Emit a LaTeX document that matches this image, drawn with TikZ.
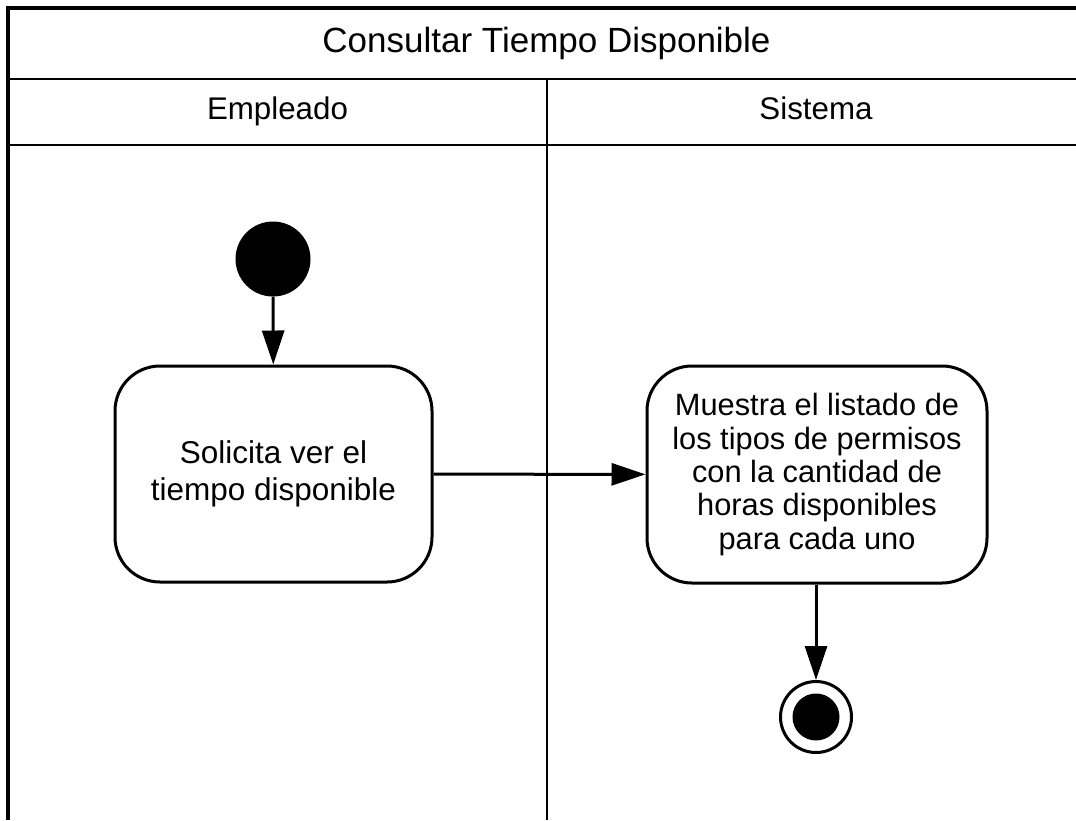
\documentclass[tikz,border=0pt]{standalone}
\usepackage{fontspec}
\setmainfont{Liberation Sans}
\usetikzlibrary{arrows.meta,positioning}
\begin{document}
\begin{tikzpicture}[x=1pt,y=-1pt,
  frame/.style={line width=3.2pt},
  lane/.style={line width=2.6pt},
  actbox/.style={draw,line width=3pt,rounded corners=45pt,align=center,inner sep=0pt},
  flow/.style={line width=3pt,-{Triangle[length=34pt,width=22pt]}},
  titletext/.style={font=\fontsize{35}{41}\selectfont,anchor=base,inner sep=0pt},
  headtext/.style={font=\fontsize{31.3}{37}\selectfont,anchor=base,inner sep=0pt}]
\useasboundingbox (0,0) rectangle (1076,820);
\fill[white] (0,0) rectangle (1076,820);
% frame and lanes
\draw[frame] (8,820) -- (8,8) -- (1090,8);
\draw[lane] (8,79) -- (1090,79);
\draw[lane] (8,145) -- (1090,145);
\draw[lane] (547,79) -- (547,820);
\node[titletext] (title) at (546.5,52) {Consultar Tiempo Disponible};
\node[headtext] (h1) at (277.5,119) {Empleado};
\node[headtext] (h2) at (816,119) {Sistema};
% nodes
\node[circle,fill=black,minimum size=75pt,inner sep=0pt] (start) at (273,259) {};
\node[actbox,minimum width=317pt,minimum height=216pt,font=\fontsize{31.5}{37.5}\selectfont] (a1) at (273.5,474) {Solicita ver el\\tiempo disponible};
\node[actbox,minimum width=340pt,minimum height=217pt,font=\fontsize{30.8}{33.3}\selectfont] (a2) at (817,474.5) {Muestra el listado de\\los tipos de permisos\\con la cantidad de\\horas disponibles\\para cada uno};
\node[circle,draw,line width=3pt,minimum size=71pt,inner sep=0pt] (end) at (816,717) {};
\node[circle,fill=black,minimum size=47pt,inner sep=0pt] (endin) at (end.center) {};
% flows
\draw[flow] (start) -- (a1);
\draw[flow] (a1) -- (a2);
\draw[flow] (a2.south -| end) -- (end);
\end{tikzpicture}
\end{document}
